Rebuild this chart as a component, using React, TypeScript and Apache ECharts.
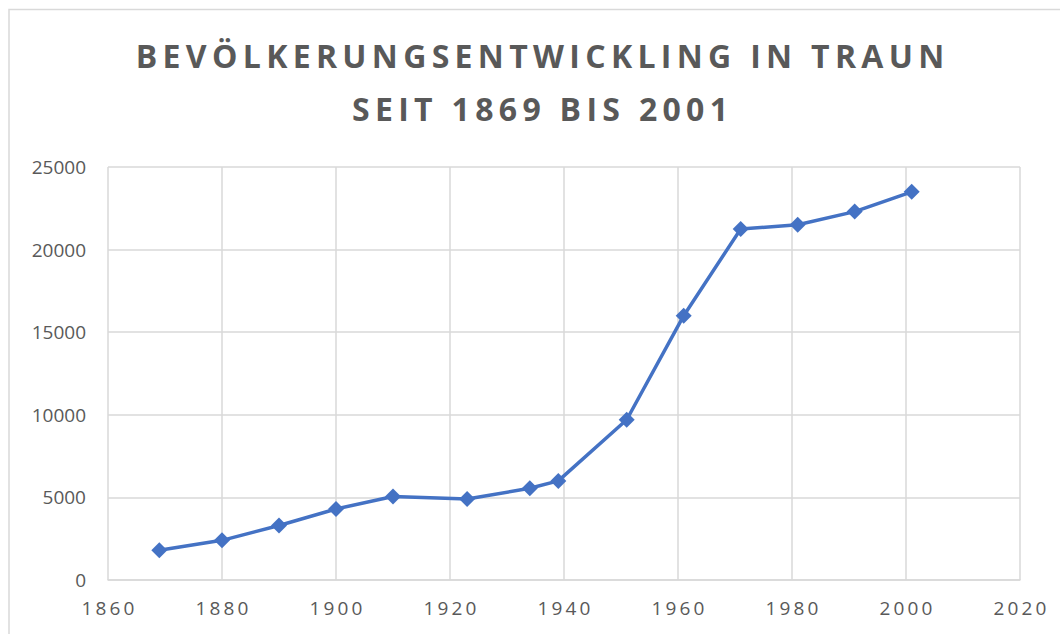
import React, { useEffect, useRef } from "react";
import * as echarts from "echarts";

const titleLines = ["BEVÖLKERUNGSENTWICKLING IN TRAUN", "SEIT 1869 BIS 2001"];
const years = [1869, 1880, 1890, 1900, 1910, 1923, 1934, 1939, 1951, 1961, 1971, 1981, 1991, 2001];
const population = [1800, 2400, 3300, 4300, 5050, 4900, 5550, 6000, 9700, 16000, 21250, 21500, 22300, 23500];

const spaced = (s: string, sep: string) => s.split("").join(sep);

export default function App() {
  const ref = useRef<HTMLDivElement>(null);
  useEffect(() => {
    if (!ref.current) return;
    const chart = echarts.init(ref.current, null, { renderer: "svg" });
    chart.setOption({
      animation: false,
      backgroundColor: "#ffffff",
      graphic: [
        {
          type: "rect",
          shape: { x: 9, y: 9.5, width: 1100, height: 700 },
          style: { fill: "none", stroke: "#d9d9d9", lineWidth: 1.5 },
          silent: true,
        },
        {
          type: "text",
          x: 540,
          y: 55,
          style: {
            text: spaced(titleLines[0], "\u2009"),
            fill: "#595959",
            font: "bold 32px 'Open Sans'",
            align: "center",
            verticalAlign: "middle",
          },
        },
        {
          type: "text",
          x: 540,
          y: 108,
          style: {
            text: spaced(titleLines[1], "\u2009"),
            fill: "#595959",
            font: "bold 32px 'Open Sans'",
            align: "center",
            verticalAlign: "middle",
          },
        },
      ],
      grid: { left: 108, right: 40, top: 167, bottom: 54 },
      xAxis: {
        type: "value",
        min: 1860,
        max: 2020,
        interval: 20,
        axisLine: { show: true, lineStyle: { color: "#d9d9d9", width: 1.5 } },
        axisTick: { show: false },
        splitLine: { show: true, lineStyle: { color: "#d9d9d9", width: 1.5 } },
        axisLabel: {
          color: "#595959",
          fontFamily: "'Open Sans'",
          fontSize: 19,
          margin: 18,
          formatter: (v: number) => spaced(String(v), "\u2009"),
        },
      },
      yAxis: {
        type: "value",
        min: 0,
        max: 25000,
        interval: 5000,
        axisLine: { show: false },
        axisTick: { show: false },
        splitLine: { show: true, lineStyle: { color: "#d9d9d9", width: 1.5 } },
        axisLabel: {
          color: "#595959",
          fontFamily: "'Open Sans'",
          fontSize: 19,
          margin: 22,
          formatter: (v: number) => String(v),
        },
      },
      series: [
        {
          type: "line",
          data: years.map((y, i) => [y, population[i]]),
          symbol: "diamond",
          symbolSize: 16,
          lineStyle: { color: "#4472C4", width: 3.5 },
          itemStyle: { color: "#4472C4" },
        },
      ],
    });
    return () => chart.dispose();
  }, []);
  return <div ref={ref} style={{ width: 1060, height: 634, position: "absolute", left: 0, top: 0 }} />;
}
